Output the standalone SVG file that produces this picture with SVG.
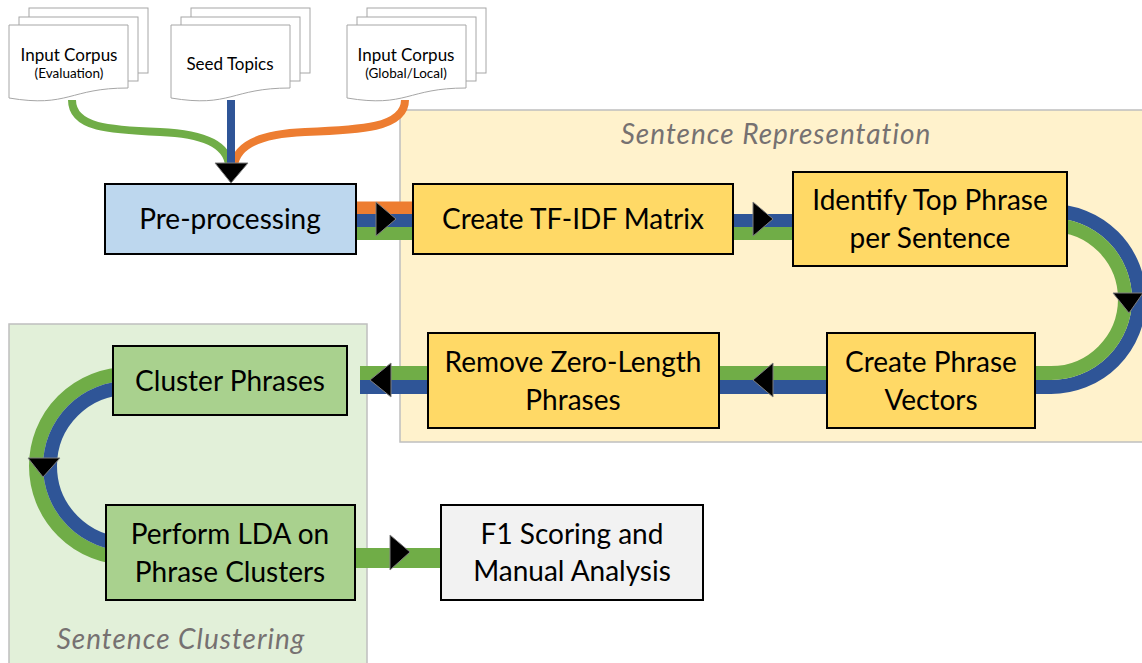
<svg xmlns="http://www.w3.org/2000/svg" width="1142" height="663" viewBox="0 0 1142 663">
  <defs>
    <style>
      .region { stroke: #bfbfbf; stroke-width: 1.5; }
      .box { stroke: #000; stroke-width: 2; }
      .page { fill: #fff; stroke: #a6a6a6; stroke-width: 1; }
      .lbl { font-family: Lato, "Liberation Sans", sans-serif; font-size: 28px; fill: #000; text-anchor: middle; }
      .doc { font-family: Lato, "Liberation Sans", sans-serif; font-size: 17px; fill: #000; text-anchor: middle; }
      .docsub { font-family: Lato, "Liberation Sans", sans-serif; font-size: 13.5px; fill: #000; text-anchor: middle; }
      .title { font-family: Lato, "Liberation Sans", sans-serif; font-size: 28px; letter-spacing: 1px; font-style: italic; fill: #767171; text-anchor: middle; }
      .g { fill: none; stroke: #70ad47; }
      .b { fill: none; stroke: #2f5597; }
      .o { fill: none; stroke: #ed7d31; }
      .head { fill: #000; stroke: #7f7f7f; stroke-width: 1; stroke-linejoin: miter; }
    </style>
    <!-- stacked document icon with wavy bottom edge, 119 wide -->
    <g id="docstack">
      <rect class="page" x="20" y="-17" width="119" height="65"/>
      <rect class="page" x="10" y="-8" width="119" height="64"/>
      <path class="page" d="M0,0 H119 V63 C60,63 60,83 0,73 Z"/>
    </g>
  </defs>

  <!-- background regions -->
  <g id="sentence-representation">
    <rect class="region" x="400" y="110" width="750" height="332" fill="#fff2cc"/>
    <text class="title" x="776" y="144">Sentence Representation</text>
  </g>
  <g id="sentence-clustering">
    <rect class="region" x="9" y="324" width="358" height="350" fill="#e2f0d9"/>
    <text class="title" x="181" y="649">Sentence Clustering</text>
  </g>

  <!-- connectors -->
  <g id="connectors">
    <!-- inputs into pre-processing -->
    <path class="g" stroke-width="8" d="M72,100 C72,128 110,130 160,132 C210,134 228,148 229,166"/>
    <path class="o" stroke-width="8" d="M405,100 C405,128 360,130 305,132 C255,134 236,148 234,166"/>
    <path class="b" stroke-width="8" d="M231,100 V166"/>
    <polygon class="head" points="215,163 248,163 231,183"/>

    <!-- pre-processing to TF-IDF -->
    <path class="o" stroke-width="13" d="M350,208 H420"/>
    <path class="b" stroke-width="13" d="M350,220.5 H420"/>
    <path class="g" stroke-width="13" d="M350,233.5 H420"/>
    <polygon class="head" points="376,202 376,236 396,219"/>

    <!-- TF-IDF to top phrase -->
    <path class="b" stroke-width="13" d="M728,220.5 H800"/>
    <path class="g" stroke-width="13" d="M728,233.5 H800"/>
    <polygon class="head" points="753,202 753,236 773,219"/>

    <!-- top phrase round to phrase vectors, then on to cluster phrases -->
    <path class="b" stroke-width="14" d="M1000,211 H1051 A88,88 0 0 1 1051,387 H360"/>
    <path class="g" stroke-width="14" d="M1000,225 H1051 A74,74 0 0 1 1051,373 H360"/>
    <polygon class="head" points="1113,293 1143,293 1129,313"/>
    <polygon class="head" points="773,363 773,397 753,380"/>
    <polygon class="head" points="391,363 391,397 370,380"/>

    <!-- cluster phrases round to LDA -->
    <path class="g" stroke-width="14" d="M140,374 H128 A92,92 0 0 0 128,558 H140"/>
    <path class="b" stroke-width="14" d="M140,388 H128 A78,78 0 0 0 128,544 H140"/>
    <polygon class="head" points="28,458 60,458 43,477"/>

    <!-- LDA to scoring -->
    <path class="g" stroke-width="20" d="M350,558 H448"/>
    <polygon class="head" points="390,535 390,570 410,552"/>
  </g>

  <!-- input documents -->
  <g id="doc-eval">
    <use href="#docstack" x="9" y="25"/>
    <text class="doc" x="69" y="61">Input Corpus</text>
    <text class="docsub" x="69" y="78">(Evaluation)</text>
  </g>
  <g id="doc-seed">
    <use href="#docstack" x="171" y="25"/>
    <text class="doc" x="230" y="70">Seed Topics</text>
  </g>
  <g id="doc-global">
    <use href="#docstack" x="347" y="25"/>
    <text class="doc" x="406" y="61">Input Corpus</text>
    <text class="docsub" x="406" y="78">(Global/Local)</text>
  </g>

  <!-- process steps -->
  <g id="preprocessing">
    <rect class="box" x="105" y="184" width="251" height="70" fill="#bdd7ee"/>
    <text class="lbl" x="230" y="229">Pre-processing</text>
  </g>
  <g id="tfidf">
    <rect class="box" x="413" y="184" width="320" height="70" fill="#ffd966"/>
    <text class="lbl" x="573" y="229">Create TF-IDF Matrix</text>
  </g>
  <g id="top-phrase">
    <rect class="box" x="793" y="172" width="274" height="94" fill="#ffd966"/>
    <text class="lbl" x="930" y="210">Identify Top Phrase</text>
    <text class="lbl" x="930" y="248">per Sentence</text>
  </g>
  <g id="phrase-vectors">
    <rect class="box" x="827" y="333" width="208" height="95" fill="#ffd966"/>
    <text class="lbl" x="931" y="372">Create Phrase</text>
    <text class="lbl" x="931" y="410">Vectors</text>
  </g>
  <g id="remove-zero">
    <rect class="box" x="428" y="333" width="291" height="95" fill="#ffd966"/>
    <text class="lbl" x="573" y="372">Remove Zero-Length</text>
    <text class="lbl" x="573" y="410">Phrases</text>
  </g>
  <g id="cluster-phrases">
    <rect class="box" x="113" y="346" width="234" height="69" fill="#a9d18e"/>
    <text class="lbl" x="230" y="391">Cluster Phrases</text>
  </g>
  <g id="lda">
    <rect class="box" x="106" y="505" width="249" height="95" fill="#a9d18e"/>
    <text class="lbl" x="230" y="544">Perform LDA on</text>
    <text class="lbl" x="230" y="582">Phrase Clusters</text>
  </g>
  <g id="scoring">
    <rect class="box" x="441" y="505" width="262" height="95" fill="#f2f2f2"/>
    <text class="lbl" x="572" y="544">F1 Scoring and</text>
    <text class="lbl" x="572" y="581">Manual Analysis</text>
  </g>
</svg>
